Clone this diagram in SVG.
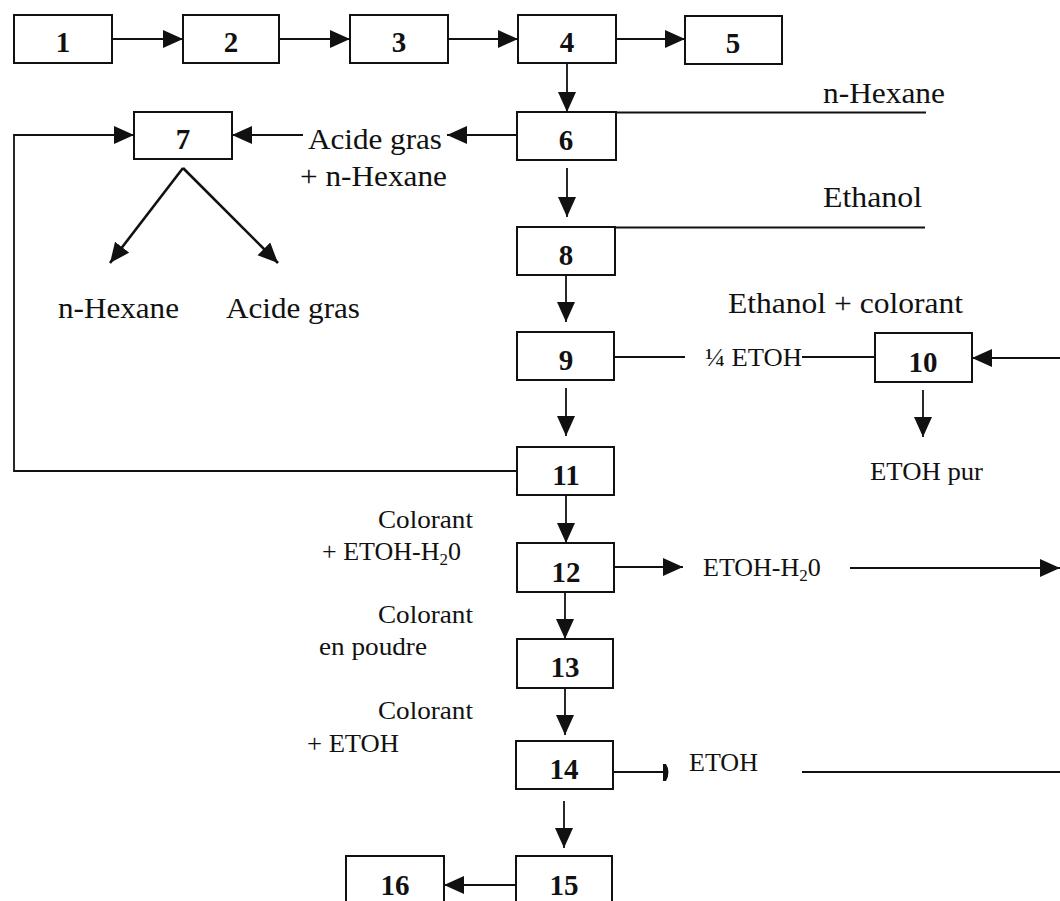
<svg xmlns="http://www.w3.org/2000/svg" width="1060" height="901" viewBox="0 0 1060 901">
<style>
.box{fill:#fff;stroke:#111;stroke-width:2}
.num{font-family:"Liberation Serif","Times New Roman",serif;font-weight:bold;font-size:29px;fill:#111;text-anchor:middle}
.lbl{font-family:"Liberation Serif","Times New Roman",serif;font-size:30px;fill:#111}
.sm{font-family:"Liberation Serif","Times New Roman",serif;font-size:26px;fill:#111}
.ln{fill:none;stroke:#111;stroke-width:1.8}
.arr{fill:none;stroke:#111;stroke-width:1.8;marker-end:url(#ah)}
.diag{fill:none;stroke:#111;stroke-width:2.6;marker-end:url(#ah)}
</style>
<defs>
<marker id="ah" markerUnits="userSpaceOnUse" markerWidth="21" markerHeight="19" refX="20" refY="9" orient="auto">
<path d="M0,0 L20,9 L0,18 z" fill="#111"/>
</marker>
</defs>
<rect width="1060" height="901" fill="#fff"/>
<g id="connectors">
<line class="arr" x1="112" y1="39" x2="183" y2="39"/>
<line class="arr" x1="279" y1="39" x2="350" y2="39"/>
<line class="arr" x1="448" y1="39" x2="518" y2="39"/>
<line class="arr" x1="616" y1="39" x2="685" y2="39"/>
<line class="arr" x1="567" y1="63" x2="567" y2="112"/>
<line class="ln" x1="616" y1="112.5" x2="926" y2="112.5"/>
<line class="arr" x1="517" y1="135" x2="447" y2="135"/>
<line class="arr" x1="303" y1="135" x2="232" y2="135"/>
<polyline class="arr" points="517,471 14,471 14,135 134,135"/>
<line class="diag" x1="183" y1="168" x2="110" y2="263"/>
<line class="diag" x1="183" y1="168" x2="278" y2="263"/>
<line class="arr" x1="567" y1="168" x2="567" y2="217"/>
<line class="ln" x1="615" y1="227.5" x2="925" y2="227.5"/>
<line class="arr" x1="566" y1="275" x2="566" y2="322"/>
<line class="ln" x1="614" y1="357" x2="685" y2="357"/>
<line class="ln" x1="802" y1="357" x2="875" y2="357"/>
<line class="arr" x1="1060" y1="358" x2="972" y2="358"/>
<line class="arr" x1="923" y1="390" x2="923" y2="437"/>
<line class="arr" x1="566" y1="388" x2="566" y2="436"/>
<line class="arr" x1="566" y1="495" x2="566" y2="543"/>
<line class="arr" x1="614" y1="567" x2="683" y2="567"/>
<line class="arr" x1="850" y1="568" x2="1060" y2="568"/>
<line class="arr" x1="565" y1="592" x2="565" y2="639"/>
<line class="arr" x1="565" y1="688" x2="565" y2="735"/>
<line class="ln" x1="613" y1="772" x2="664" y2="772"/>
<path d="M663,764 L666,764 Q671,772 666,781 L663,781 z" fill="#111"/>
<line class="ln" x1="802" y1="772" x2="1060" y2="772"/>
<line class="arr" x1="564" y1="801" x2="564" y2="848"/>
<line class="arr" x1="516" y1="885" x2="444" y2="885"/>
</g>
<g id="node-1"><rect class="box" x="14" y="15" width="98" height="48"/><text class="num" x="63" y="52">1</text></g>
<g id="node-2"><rect class="box" x="183" y="15" width="96" height="48"/><text class="num" x="231" y="52">2</text></g>
<g id="node-3"><rect class="box" x="350" y="15" width="98" height="48"/><text class="num" x="399" y="52">3</text></g>
<g id="node-4"><rect class="box" x="518" y="15" width="98" height="48"/><text class="num" x="567" y="52">4</text></g>
<g id="node-5"><rect class="box" x="685" y="16" width="97" height="48"/><text class="num" x="733" y="53">5</text></g>
<g id="node-6"><rect class="box" x="517" y="112" width="99" height="48"/><text class="num" x="566" y="150">6</text></g>
<g id="node-7"><rect class="box" x="134" y="112" width="98" height="47"/><text class="num" x="183" y="149">7</text></g>
<g id="node-8"><rect class="box" x="517" y="227" width="98" height="48"/><text class="num" x="566" y="265">8</text></g>
<g id="node-9"><rect class="box" x="517" y="332" width="97" height="48"/><text class="num" x="566" y="370">9</text></g>
<g id="node-10"><rect class="box" x="875" y="333" width="97" height="49"/><text class="num" x="923" y="372">10</text></g>
<g id="node-11"><rect class="box" x="517" y="447" width="97" height="48"/><text class="num" x="566" y="485">11</text></g>
<g id="node-12"><rect class="box" x="517" y="543" width="97" height="49"/><text class="num" x="566" y="582">12</text></g>
<g id="node-13"><rect class="box" x="517" y="639" width="96" height="49"/><text class="num" x="565" y="677">13</text></g>
<g id="node-14"><rect class="box" x="516" y="741" width="97" height="48"/><text class="num" x="564" y="779">14</text></g>
<g id="node-15"><rect class="box" x="516" y="856" width="96" height="50"/><text class="num" x="564" y="895">15</text></g>
<g id="node-16"><rect class="box" x="346" y="856" width="98" height="50"/><text class="num" x="395" y="895">16</text></g>
<g id="labels">
<text class="lbl" x="823" y="103" textLength="122" lengthAdjust="spacingAndGlyphs">n-Hexane</text>
<text class="lbl" x="308" y="149" textLength="134" lengthAdjust="spacingAndGlyphs">Acide gras</text>
<text class="lbl" x="300" y="186" textLength="147" lengthAdjust="spacingAndGlyphs">+ n-Hexane</text>
<text class="lbl" x="823" y="207" textLength="99" lengthAdjust="spacingAndGlyphs">Ethanol</text>
<text class="lbl" x="58" y="318" textLength="121" lengthAdjust="spacingAndGlyphs">n-Hexane</text>
<text class="lbl" x="226" y="318" textLength="134" lengthAdjust="spacingAndGlyphs">Acide gras</text>
<text class="lbl" x="728" y="313" textLength="235" lengthAdjust="spacingAndGlyphs">Ethanol + colorant</text>
<text class="sm" x="705" y="366" textLength="97" lengthAdjust="spacingAndGlyphs">¼ ETOH</text>
<text class="sm" x="870" y="480" textLength="113" lengthAdjust="spacingAndGlyphs">ETOH pur</text>
<text class="sm" x="378" y="528" textLength="95" lengthAdjust="spacingAndGlyphs">Colorant</text>
<text class="sm" x="322" y="560">+ ETOH-H<tspan font-size="17" dy="5">2</tspan><tspan dy="-5">0</tspan></text>
<text class="sm" x="703" y="576">ETOH-H<tspan font-size="17" dy="5">2</tspan><tspan dy="-5">0</tspan></text>
<text class="sm" x="378" y="623" textLength="95" lengthAdjust="spacingAndGlyphs">Colorant</text>
<text class="sm" x="319" y="655" textLength="108" lengthAdjust="spacingAndGlyphs">en poudre</text>
<text class="sm" x="378" y="719" textLength="95" lengthAdjust="spacingAndGlyphs">Colorant</text>
<text class="sm" x="307" y="752" textLength="92" lengthAdjust="spacingAndGlyphs">+ ETOH</text>
<text class="sm" x="689" y="771" textLength="69" lengthAdjust="spacingAndGlyphs">ETOH</text>
</g>
</svg>
